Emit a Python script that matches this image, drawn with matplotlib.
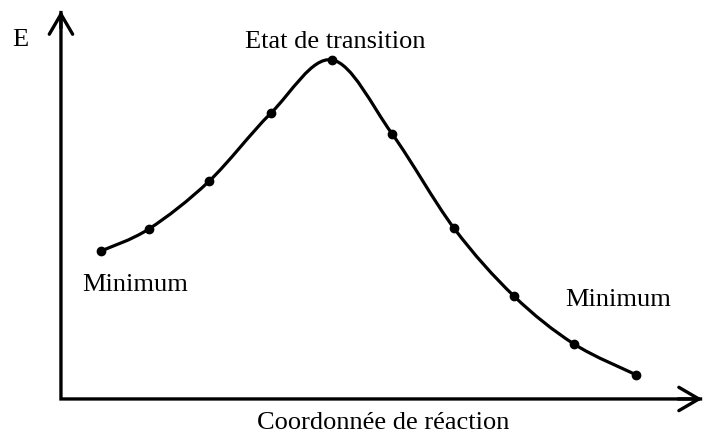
import matplotlib
matplotlib.use("Agg")
import matplotlib.pyplot as plt
from matplotlib.path import Path
from matplotlib.patches import PathPatch
import numpy as np

# Reaction coordinate samples and their energies
coord = [1.0, 1.8, 2.8, 3.83, 4.85, 5.85, 6.88, 7.88, 8.88, 9.92]
energy = [4.35, 5.0, 6.4, 8.4, 9.97, 7.8, 5.03, 3.03, 1.62, 0.71]

ylabel = "E"
xlabel = "Coordonnée de réaction"
ts_label = "Etat de transition"
min_label = "Minimum"

plt.rcParams["font.family"] = ["Liberation Serif", "DejaVu Serif"]

fig = plt.figure(figsize=(7.05, 4.35), dpi=100)
ax = fig.add_axes([0, 0, 1, 1])
ax.set_xlim(-0.683, 11.067)
ax.set_ylim(-1.03, 11.76)
ax.axis("off")

# Axes drawn as an L-shaped line with open arrowheads at both ends
x0, y0 = 0.333, 0.0
y_top, x_right = 11.41, 11.02
ax.plot([x0, x0, x_right], [y_top, y0, y0], color="black", lw=2.4,
        solid_joinstyle="miter", solid_capstyle="butt", snap=False)
arrow = dict(arrowstyle="->,head_length=0.72,head_width=0.42", lw=2.4, color="black",
             shrinkA=0, shrinkB=0, mutation_scale=20, snap=False)
ax.annotate("", xy=(x0, y_top), xytext=(x0, y_top - 0.5), arrowprops=arrow)
ax.annotate("", xy=(x_right, y0), xytext=(x_right - 0.4, y0), arrowprops=arrow)

# Smooth curve through the points (Catmull-Rom segments as cubic Beziers)
pts = np.column_stack([coord, energy]).astype(float)
verts = [pts[0]]
codes = [Path.MOVETO]
n = len(pts)
for i in range(n - 1):
    p0 = pts[i - 1] if i > 0 else pts[i]
    p1 = pts[i]
    p2 = pts[i + 1]
    p3 = pts[i + 2] if i + 2 < n else pts[i + 1]
    c1 = p1 + (p2 - p0) / 6.0
    c2 = p2 - (p3 - p1) / 6.0
    verts += [c1, c2, p2]
    codes += [Path.CURVE4] * 3
ax.add_patch(PathPatch(Path(verts, codes), fill=False, lw=2.3, color="black",
                       capstyle="round", joinstyle="round"))
ax.plot(coord, energy, "o", color="black", markersize=6)

fs = 19
ax.text(-0.35, 10.59, ylabel, fontsize=fs, ha="center", va="center")
ax.text(4.9, 10.53, ts_label, fontsize=fs, ha="center", va="center")
ax.text(1.57, 3.38, min_label, fontsize=fs, ha="center", va="center")
ax.text(9.62, 2.94, min_label, fontsize=fs, ha="center", va="center")
ax.text(5.7, -0.68, xlabel, fontsize=fs, ha="center", va="center")

fig.savefig("out.png", dpi=100)
